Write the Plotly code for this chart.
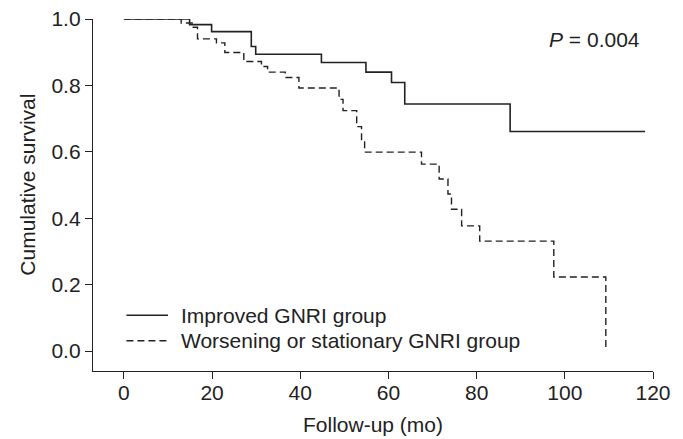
import plotly.graph_objects as go

# Kaplan-Meier step data (event times in months, survival after each step)
improved_t = [0, 14.9, 19.9, 28.9, 29.9, 44.8, 54.9, 60.7, 63.7, 87.6, 118.2]
improved_s = [1.0, 0.983, 0.962, 0.917, 0.894, 0.869, 0.840, 0.809, 0.744, 0.661, 0.661]

worse_t = [0, 13.0, 15.5, 16.7, 21.0, 22.9, 27.2, 31.2, 32.6, 36.6, 39.7, 48.8, 49.7,
           52.8, 53.9, 54.6, 67.5, 71.5, 73.5, 74.3, 76.6, 80.7, 97.5, 109.3]
worse_s = [1.0, 0.988, 0.975, 0.940, 0.928, 0.899, 0.872, 0.857, 0.840, 0.824, 0.792, 0.758, 0.724,
           0.676, 0.630, 0.599, 0.563, 0.518, 0.473, 0.427, 0.377, 0.331, 0.223, 0.0]

legend_labels = ["Improved GNRI group", "Worsening or stationary GNRI group"]
p_text = "<i>P</i> = 0.004"
x_title = "Follow-up (mo)"
y_title = "Cumulative survival"

x_ticks = [0, 20, 40, 60, 80, 100, 120]
y_ticks = [0.0, 0.2, 0.4, 0.6, 0.8, 1.0]

FONT = "Liberation Sans, Arial, sans-serif"
INK = "#222222"
FS = 21
DASH = "7px,4px"

fig = go.Figure()
fig.add_trace(go.Scatter(x=improved_t, y=improved_s, mode="lines",
                         line=dict(shape="hv", color=INK, width=1.6),
                         name=legend_labels[0], showlegend=False))
fig.add_trace(go.Scatter(x=worse_t, y=worse_s, mode="lines",
                         line=dict(shape="hv", color=INK, width=1.4, dash=DASH),
                         name=legend_labels[1], showlegend=False))

# pixel -> paper helpers for the plot area (l=93.3, t=19.3, w=559.7, h=351.4)
def px_to_paper_x(px):
    return (px - 93.3) / 559.7

def py_to_paper_y(py):
    return (370.7 - py) / 351.4

# legend drawn manually to match reference sample length
leg_rows = [315.0, 340.5]
dashes = ["solid", DASH]
for i, lab in enumerate(legend_labels):
    yy = py_to_paper_y(leg_rows[i])
    fig.add_shape(type="line", xref="paper", yref="paper",
                  x0=px_to_paper_x(126.7), x1=px_to_paper_x(168.3), y0=yy, y1=yy,
                  line=dict(color=INK, width=1.4, dash=dashes[i]))
    fig.add_annotation(xref="paper", yref="paper", x=px_to_paper_x(179), y=yy,
                       text=lab, showarrow=False, xanchor="left", yanchor="middle",
                       font=dict(family=FONT, size=FS, color=INK))

fig.add_annotation(xref="paper", yref="paper", x=px_to_paper_x(642), y=py_to_paper_y(39.3),
                   text=p_text, showarrow=False, xanchor="right", yanchor="middle",
                   font=dict(family=FONT, size=FS, color=INK))

# axis titles
fig.add_annotation(xref="paper", yref="paper", x=px_to_paper_x(373), y=py_to_paper_y(424),
                   text=x_title, showarrow=False, xanchor="center", yanchor="middle",
                   font=dict(family=FONT, size=FS, color=INK))
fig.add_annotation(xref="paper", yref="paper", x=px_to_paper_x(28), y=py_to_paper_y(185),
                   text=y_title, showarrow=False, xanchor="center", yanchor="middle",
                   textangle=-90, font=dict(family=FONT, size=FS, color=INK))

fig.update_layout(
    width=683, height=439,
    margin=dict(l=93.3, r=30, t=19.3, b=68.3, pad=0),
    plot_bgcolor="white", paper_bgcolor="white",
    font=dict(family=FONT, size=FS, color=INK),
    xaxis=dict(range=[-7, 120], tickvals=x_ticks, ticktext=[str(v) for v in x_ticks],
               showgrid=False, zeroline=False, showline=True, linecolor=INK, linewidth=1.4,
               ticks="outside", ticklen=7, tickwidth=1.2, tickcolor=INK, automargin=False,
               ticklabelstandoff=-4),
    yaxis=dict(range=[-0.06, 1.0], tickvals=y_ticks, ticktext=[f"{v:.1f}" for v in y_ticks],
               showgrid=False, zeroline=False, showline=True, linecolor=INK, linewidth=1.4,
               ticks="outside", ticklen=7, tickwidth=1.2, tickcolor=INK, automargin=False),
)

fig.write_html("out.html")
